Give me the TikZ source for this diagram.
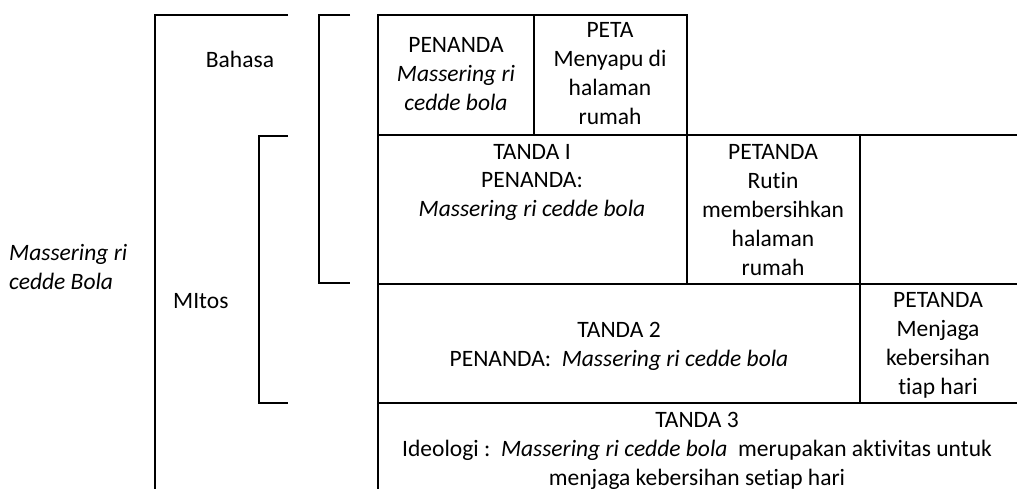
\documentclass[tikz,border=0pt]{standalone}
\usepackage{fontspec}
\setmainfont[RawFeature={-liga}]{Carlito}
\begin{document}
\begin{tikzpicture}[x=1pt,y=-1pt,
  ln/.style={line width=2.3pt},
  txt/.style={font=\fontsize{23.5}{29}\selectfont, align=center, inner sep=0pt, anchor=base},
  ltxt/.style={font=\fontsize{23.5}{29}\selectfont, align=left, inner sep=0pt, anchor=base west}]
\useasboundingbox (0,0) rectangle (1017,489);
% brackets
\draw[ln] (288,15) -- (155,15) -- (155,495);
\draw[ln] (350,15) -- (319,15) -- (319,283) -- (350,283);
\draw[ln] (288,136) -- (259,136) -- (259,403) -- (288,403);
% table
\coordinate (tl) at (378,15);
\draw[ln] (378,495) -- (tl) -- (687,15) -- (687,284);
\draw[ln] (534,15) -- (534,135);
\draw[ln] (378,135) -- (1020,135);
\draw[ln] (378,284) -- (1020,284);
\draw[ln] (378,403) -- (1020,403);
\draw[ln] (860,135) -- (860,403);
% labels
\node[txt] (bahasa) at (240,68) {Bahasa};
\node[ltxt] (mitos) at (173,308) {MItos};
\node[ltxt] (mcb) at (9,289) {\itshape Massering ri\\\itshape cedde Bola};
% cells
\node[txt] (c1) at (456,111) {PENANDA\\\itshape Massering ri\\\itshape cedde bola};
\node[txt] (c2) at (610,125) {PETA\\Menyapu di\\halaman\\rumah};
\node[txt] (c3) at (532,217) {TANDA I\\PENANDA:\\\itshape Massering ri cedde bola};
\node[txt] (c4) at (773,275) {PETANDA\\Rutin\\membersihkan\\halaman\\rumah};
\node[txt] (c5) at (619,366) {TANDA 2\\PENANDA:\ \ \textit{Massering ri cedde bola}};
\node[txt] (c6) at (938,394) {PETANDA\\Menjaga\\kebersihan\\tiap hari};
\node[txt] (c7) at (697,485) {TANDA 3\\Ideologi :\ \ \textit{Massering ri cedde bola}\ \ merupakan aktivitas untuk\\menjaga kebersihan setiap hari};
\end{tikzpicture}
\end{document}
